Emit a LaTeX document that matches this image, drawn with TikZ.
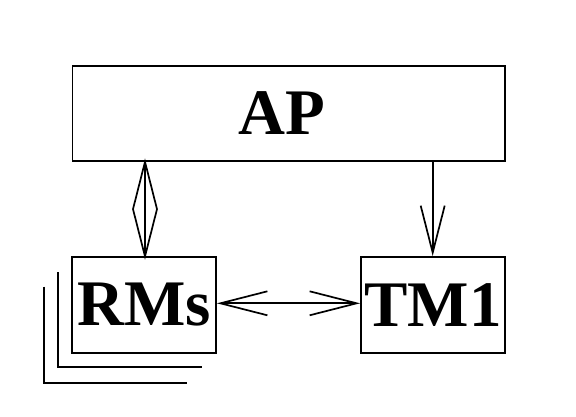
\documentclass[tikz,border=0pt]{standalone}
\usepackage{fontspec}
\setmainfont{Liberation Serif}
\usetikzlibrary{arrows.meta,calc}
\begin{document}
\begin{tikzpicture}[x=1pt,y=1pt,
  box/.style={draw=black,line width=1.8pt,inner sep=0pt,font=\fontsize{65}{65}\selectfont\bfseries,text=black},
  conn/.style={draw=black,line width=1.7pt},
  vtip/.style={-{Straight Barb[length=47pt,width=24pt,line width=1.7pt]}}]
\useasboundingbox[fill=white] (0,0) rectangle (576,416);
% shadow lines behind RMs
\draw[conn] (58.3,416-272) -- (58.3,416-367.3) -- (201.7,416-367.3);
\draw[conn] (44,416-286.7) -- (44,416-382.7) -- (186.7,416-382.7);
\node[box,minimum width=432.5pt,minimum height=95.3pt,text width=0pt,align=center] (ap) at (288.75,302.7) {};
\node at ([xshift=-7pt]ap.center) [font=\fontsize{65}{65}\selectfont\bfseries,inner sep=0pt] (aptext) {AP};
\node[box,fill=white,minimum width=143.7pt,minimum height=95.4pt] (rms) at (144.2,111) {RMs};
\node[box,minimum width=144pt,minimum height=96pt] (tm) at (433,111) {TM1};
% aggregation diamond
\coordinate (dtop) at (145,0 |- ap.south);
\coordinate (dbot) at (145,0 |- rms.north);
\coordinate (dmid) at ($(dtop)!0.5!(dbot)$);
\draw[conn,line join=miter] (dtop) -- ([xshift=-12pt]dmid) -- (dbot) -- ([xshift=12pt]dmid) -- cycle;
\draw[conn] (dtop) -- (dbot);
% AP -> TM1
\coordinate (atop) at (432.7,0 |- ap.south);
\coordinate (abot) at (432.7,0 |- tm.north);
\draw[conn,vtip] (atop) -- (abot);
% RMs <-> TM1
\draw[conn,{Straight Barb[length=47pt,width=24pt,line width=1.7pt]}-{Straight Barb[length=47pt,width=24pt,line width=1.7pt]}] (rms.east |- 0,112.7) -- (tm.west |- 0,112.7);
\end{tikzpicture}
\end{document}
